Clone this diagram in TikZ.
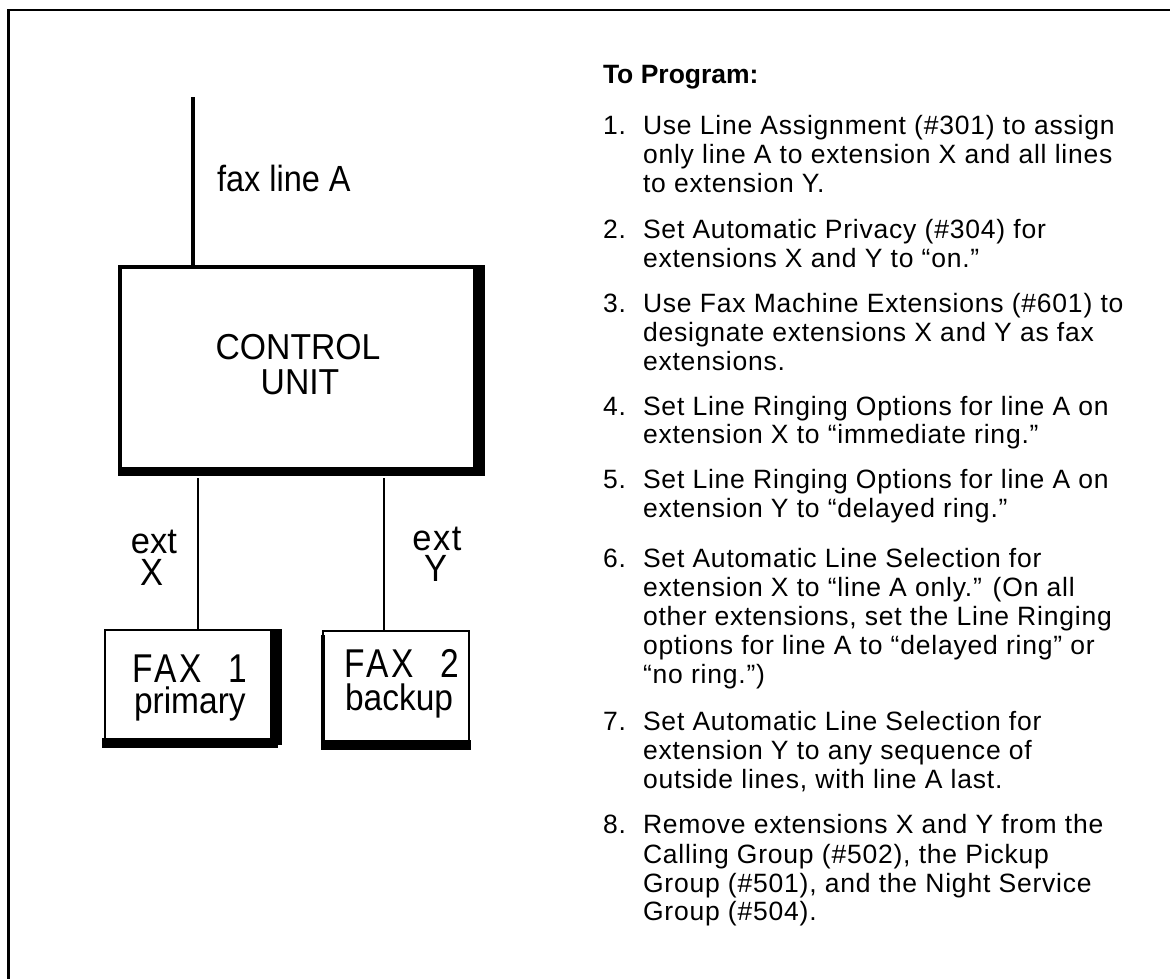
\documentclass[tikz,border=0pt]{standalone}
\usepackage{fontspec}
\setmainfont{Liberation Sans}
\newfontfamily\trk{Liberation Sans}[LetterSpace=3.0]
\usepackage{graphicx}
\newcommand\vst[2]{\scalebox{1}[#1]{#2}}
\begin{document}
\begin{tikzpicture}[x=1pt,y=-1pt,
  lbl/.style={anchor=base west, inner sep=0pt, outer sep=0pt},
  lblc/.style={anchor=base, inner sep=0pt, outer sep=0pt},
  itemtxt/.style={lbl, font=\trk\fontsize{26.5pt}{29pt}\selectfont},
  headtxt/.style={lbl, font=\fontsize{26.5pt}{29pt}\selectfont\bfseries},
  borderln/.style={line width=2.6pt, line join=miter},
  wire/.style={line width=2pt},
  cubox/.style={draw, line width=4pt, inner sep=0pt, outer sep=0pt},
  faxbox/.style={draw, line width=2pt, inner sep=0pt, outer sep=0pt},
  bigfont/.style={font=\fontsize{33.7pt}{36pt}\selectfont},
  faxfont/.style={font=\fontsize{33.5pt}{36pt}\selectfont},
  extfont/.style={font=\fontsize{34.5pt}{36pt}\selectfont}
]
\useasboundingbox (0,0) rectangle (1170,978);
% frame (top and left only)
\coordinate (tl) at (8.5,10);
\coordinate (tr) at (1172,10);
\coordinate (bl) at (8.5,980);
\draw[borderln] (tr) -- (tl) -- (bl);

% control unit
\node[cubox, minimum width=359pt, minimum height=204pt] (cu) at (299.5,369) {};
\fill ([xshift=-6pt,yshift=2pt]cu.north east) rectangle ([xshift=6pt,yshift=-5pt]cu.south east);
\fill ([xshift=-2pt,yshift=4pt]cu.south west) rectangle ([xshift=6pt,yshift=-5pt]cu.south east);
\node[lblc, bigfont] (cut1) at (298,359) {\vst{1.07}{CONTROL}};
\node[lblc, bigfont] (cut2) at (300,394) {\vst{1.07}{UNIT}};

% fax line A
\coordinate (fla) at (193,97);
\draw[line width=3.3pt] (fla) -- (fla |- cu.north);
\node[lbl, font=\fontsize{32.5pt}{36pt}\selectfont] (faxA) at (217,191) {\vst{1.12}{fax line A}};

% fax boxes
\node[faxbox, minimum width=166pt, minimum height=111pt] (fax1) at (188,685.5) {};
\fill ([xshift=-1pt,yshift=1pt]fax1.north east) rectangle ([xshift=11pt,yshift=-4pt]fax1.south east);
\fill ([xshift=-3pt,yshift=3pt]fax1.south west) rectangle ([xshift=7pt,yshift=-7pt]fax1.south east);
\node[faxbox, minimum width=146pt, minimum height=114pt] (fax2) at (396,688) {};
\fill ([xshift=-2pt,yshift=-4pt]fax2.north west) rectangle ([xshift=2pt,yshift=-5pt]fax2.south west);
\fill ([xshift=-2pt,yshift=5pt]fax2.south west) rectangle ([xshift=2pt,yshift=-5pt]fax2.south east);

\node[lbl, faxfont] (f1a) at (132,682) {\vst{1.2}{F\kern2.5pt A\kern2.5pt X\hspace{26pt}1}};
\node[lbl, faxfont] (f1b) at (134,713) {\vst{1.1}{primary}};
\node[lbl, faxfont] (f2a) at (344,677) {\vst{1.2}{F\kern2.5pt A\kern2.5pt X\hspace{26pt}2}};
\node[lbl, faxfont] (f2b) at (345,710) {\vst{1.1}{backup}};

% extension wires
\coordinate (ex) at (198,478);
\coordinate (ey) at (384,478);
\draw[wire] (ex) -- (ex |- fax1.north);
\draw[wire] (ey) -- (ey |- fax2.north);
\node[lblc, extfont] (extx) at (154,553) {\vst{1.05}{ext}};
\node[lblc, extfont] (xx) at (152,585) {\vst{1.1}{X}};
\node[lblc, extfont] (exty) at (437,550) {\vst{1.05}{e\kern1.5pt x\kern1.5pt t}};
\node[lblc, extfont] (yy) at (436,581) {\vst{1.1}{Y}};

% instructions
\node[headtxt] (head) at (603,83) {To Program:};

\node[itemtxt] (n1) at (603,134) {1.};
\node[itemtxt] (t1a) at (643,134) {Use Line Assignment (\#301) to assign};
\node[itemtxt] (t1b) at (643,163) {only line A to extension X and all lines};
\node[itemtxt] (t1c) at (643,192) {to extension Y.};

\node[itemtxt] (n2) at (603,238) {2.};
\node[itemtxt] (t2a) at (643,238) {Set Automatic Privacy (\#304) for};
\node[itemtxt] (t2b) at (643,267) {extensions X and Y to “on.”};

\node[itemtxt] (n3) at (603,312) {3.};
\node[itemtxt] (t3a) at (643,312) {Use Fax Machine Extensions (\#601) to};
\node[itemtxt] (t3b) at (643,341) {designate extensions X and Y as fax};
\node[itemtxt] (t3c) at (643,370) {extensions.};

\node[itemtxt] (n4) at (603,415) {4.};
\node[itemtxt] (t4a) at (643,415) {Set Line Ringing Options for line A on};
\node[itemtxt] (t4b) at (643,443) {extension X to “immediate ring.”};

\node[itemtxt] (n5) at (603,488) {5.};
\node[itemtxt] (t5a) at (643,488) {Set Line Ringing Options for line A on};
\node[itemtxt] (t5b) at (643,517) {extension Y to “delayed ring.”};

\node[itemtxt] (n6) at (603,567) {6.};
\node[itemtxt] (t6a) at (643,567) {Set Automatic Line Selection for};
\node[itemtxt] (t6b) at (643,596) {extension X to “line A only.” (On all};
\node[itemtxt] (t6c) at (643,625) {other extensions, set the Line Ringing};
\node[itemtxt] (t6d) at (643,654) {options for line A to “delayed ring” or};
\node[itemtxt] (t6e) at (643,683) {“no ring.”)};

\node[itemtxt] (n7) at (603,730) {7.};
\node[itemtxt] (t7a) at (643,730) {Set Automatic Line Selection for};
\node[itemtxt] (t7b) at (643,759) {extension Y to any sequence of};
\node[itemtxt] (t7c) at (643,788) {outside lines, with line A last.};

\node[itemtxt] (n8) at (603,833) {8.};
\node[itemtxt] (t8a) at (643,833) {Remove extensions X and Y from the};
\node[itemtxt] (t8b) at (643,863) {Calling Group (\#502), the Pickup};
\node[itemtxt] (t8c) at (643,892) {Group (\#501), and the Night Service};
\node[itemtxt] (t8d) at (643,920) {Group (\#504).};
\end{tikzpicture}
\end{document}
